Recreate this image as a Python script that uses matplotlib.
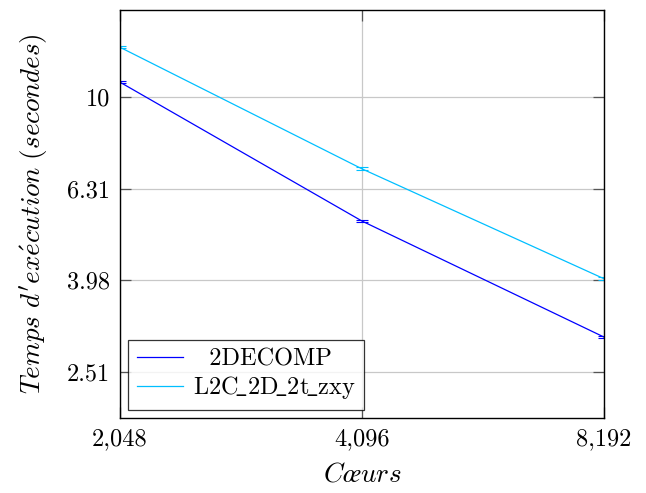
import matplotlib
matplotlib.use("Agg")
import matplotlib.pyplot as plt
from matplotlib.ticker import FixedLocator, FixedFormatter, NullLocator
from matplotlib.lines import Line2D

cores = [2048, 4096, 8192]
decomp = [10.78, 5.36, 2.99]
decomp_err = [0.05, 0.03, 0.02]
l2c = [12.85, 6.97, 4.01]
l2c_err = [0.06, 0.05, 0.03]
xtick_labels = ["2,048", "4,096", "8,192"]
yticks = [2.51, 3.98, 6.31, 10]
ytick_labels = ["2.51", "3.98", "6.31", "10"]

plt.rcParams['mathtext.fontset'] = 'cm'
plt.rcParams['font.family'] = ['cmr10', 'DejaVu Serif']
plt.rcParams['axes.unicode_minus'] = False

FS = 17.5
LFS = 19.5
fig = plt.figure(figsize=(6.46, 4.93), dpi=100)
ax = fig.add_axes([120/646, 1-418/493, (604-120)/646, (418-10)/493])
ax.set_xscale('log', base=2)
ax.set_yscale('log')

c1 = '#0000ff'
c2 = '#00bfff'
ax.errorbar(cores, decomp, yerr=decomp_err, color=c1, lw=0.9, capsize=4.5, capthick=0.8,
            elinewidth=0.8, label='2DECOMP')
ax.errorbar(cores, l2c, yerr=l2c_err, color=c2, lw=0.9, capsize=4.5, capthick=0.8,
            elinewidth=0.8, label='L2C_2D_2t_zxy')

ax.set_xlim(2048, 8192)
ax.set_ylim(1.99, 15.5)
ax.xaxis.set_major_locator(FixedLocator(cores))
ax.xaxis.set_major_formatter(FixedFormatter(xtick_labels))
ax.xaxis.set_minor_locator(NullLocator())
ax.yaxis.set_major_locator(FixedLocator(yticks))
ax.yaxis.set_major_formatter(FixedFormatter(ytick_labels))
ax.yaxis.set_minor_locator(NullLocator())
ax.grid(True, color='#c8c8c8', lw=0.9)
ax.set_axisbelow(True)
ax.tick_params(direction='in', length=8, width=0.9, color='#555555', labelsize=FS,
               top=True, right=True, pad=7)
for s in ax.spines.values():
    s.set_linewidth(1.0)

ax.set_xlabel(r"$C\oe urs$", fontsize=LFS, labelpad=9)
ax.set_ylabel(r"$Temps\ d'ex\acute{e}cution\ (secondes)$", fontsize=LFS, labelpad=12)

h = [Line2D([], [], color=c1, lw=0.9), Line2D([], [], color=c2, lw=0.9)]
leg = ax.legend(h, ['  2DECOMP', r'$\mathrm{L2C\!\_2D\!\_2t\!\_zxy}$'], loc='lower left',
                bbox_to_anchor=(0.017, 0.02),
                fontsize=FS, frameon=True, fancybox=False, edgecolor='black',
                handlelength=1.9, borderpad=0.35, labelspacing=0.15, handletextpad=0.4,
                borderaxespad=0)
leg.get_frame().set_linewidth(0.9)

fig.savefig('out.png', dpi=100)
